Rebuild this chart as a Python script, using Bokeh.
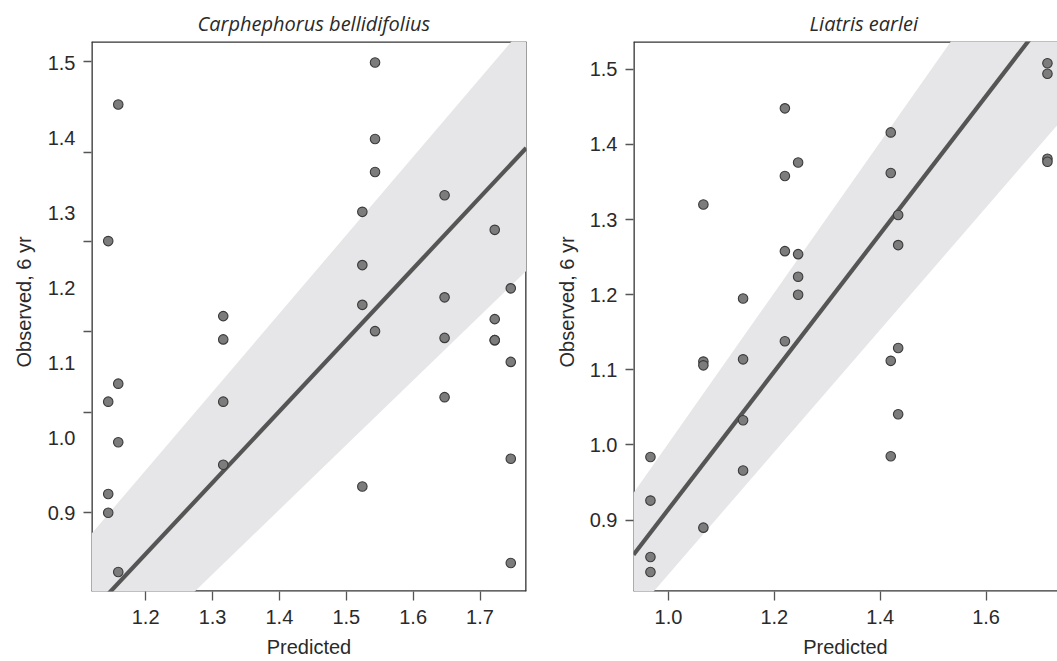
from bokeh.plotting import figure
from bokeh.layouts import row
from bokeh.models import (Range1d, FixedTicker, LinearAxis, Title,
                          PrintfTickFormatter, CustomJSTickFormatter)
from bokeh.embed import file_html
from bokeh.resources import INLINE

# ---------------- data: Carphephorus bellidifolius ----------------
left_title = "Carphephorus bellidifolius"
left_pred = [1.144, 1.144, 1.144, 1.144,
             1.159, 1.159, 1.159, 1.159,
             1.316, 1.316, 1.316, 1.316,
             1.524, 1.524, 1.524, 1.524,
             1.543, 1.543, 1.543, 1.543,
             1.647, 1.647, 1.647, 1.647,
             1.722, 1.722, 1.722, 1.722,
             1.746, 1.746, 1.746, 1.746]
left_obs = [1.262, 1.048, 0.925, 0.900,
            1.444, 1.072, 0.994, 0.821,
            1.162, 1.131, 1.048, 0.964,
            1.301, 1.230, 1.177, 0.935,
            1.500, 1.398, 1.354, 1.142,
            1.323, 1.187, 1.133, 1.054,
            1.277, 1.158, 1.130, 1.130,
            1.199, 1.101, 0.972, 0.833]
left_fit_x = [1.119, 1.769]
left_fit_y = [0.768, 1.386]
left_band_x = [1.119, 1.769]
left_band_lo = [0.662, 1.222]
left_band_hi = [0.872, 1.551]
left_xticks = [1.2, 1.3, 1.4, 1.5, 1.6, 1.7]
left_yticks = [0.9, 1.0, 1.1, 1.2, 1.3, 1.4, 1.5]
left_tick_marks = [0.900, 1.034, 1.141, 1.261, 1.380, 1.502]
left_xlim = (1.119, 1.7695)
left_ylim = (0.795, 1.528)

# ---------------- data: Liatris earlei ----------------
right_title = "Liatris earlei"
right_pred = [0.966, 0.966, 0.966, 0.966,
              1.066, 1.066, 1.066, 1.066,
              1.141, 1.141, 1.141, 1.141,
              1.220, 1.220, 1.220, 1.220,
              1.245, 1.245, 1.245, 1.245,
              1.420, 1.420, 1.420, 1.420,
              1.434, 1.434, 1.434, 1.434,
              1.716, 1.716, 1.716, 1.716]
right_obs = [0.984, 0.926, 0.851, 0.831,
             1.320, 1.111, 1.106, 0.890,
             1.195, 1.114, 1.033, 0.966,
             1.448, 1.358, 1.258, 1.138,
             1.376, 1.254, 1.224, 1.200,
             1.416, 1.362, 1.112, 0.985,
             1.306, 1.266, 1.129, 1.041,
             1.508, 1.494, 1.381, 1.377]
right_fit_x = [0.934, 1.735]
right_fit_y = [0.854, 1.588]
right_band_x = [0.934, 1.735]
right_band_lo = [0.774, 1.426]
right_band_hi = [0.936, 1.739]
right_xticks = [1.0, 1.2, 1.4, 1.6]
right_yticks = [0.9, 1.0, 1.1, 1.2, 1.3, 1.4, 1.5]
right_xlim = (0.934, 1.735)
right_ylim = (0.805, 1.537)

x_label = "Predicted"
y_label = "Observed, 6 yr"

AX_FONT = "Liberation Sans"
TXT = "#2a2a2a"
TICK = "#555555"
FRAME = "#333333"
BAND = "#e6e6e8"
LINE = "#555555"
PT_FILL = "#7c7c7c"
PT_LINE = "#3a3a3a"


def style_labels(ax, standoff):
    ax.major_label_standoff = standoff
    ax.major_label_text_font = AX_FONT
    ax.major_label_text_font_size = "20px"
    ax.major_label_text_color = TXT
    ax.formatter = PrintfTickFormatter(format="%.1f")


def make_panel(title, px, py, fx, fy, bx, blo, bhi, xticks, yticks, tick_marks,
               xlim, ylim, width, bl, br, title_offset, right_border,
               ylabel_standoff):
    p = figure(width=width, height=661,
               x_range=Range1d(*xlim), y_range=Range1d(*ylim),
               output_backend="svg", toolbar_location=None,
               min_border_left=bl, min_border_right=br,
               min_border_top=41, min_border_bottom=70)
    p.outline_line_color = None
    p.xgrid.grid_line_color = None
    p.ygrid.grid_line_color = None
    p.background_fill_color = "white"
    p.border_fill_color = "white"

    # title
    p.title.text = title
    p.title.align = "left"
    p.title.offset = title_offset
    p.title.text_font = "Open Sans"
    p.title.text_font_style = "italic"
    p.title.text_font_size = "20px"
    p.title.text_color = TXT
    p.title.standoff = 10

    # x axis
    xa = p.xaxis[0]
    xa.ticker = FixedTicker(ticks=xticks)
    xa.axis_line_color = None
    xa.major_tick_out = 9
    xa.major_tick_in = 0
    xa.major_tick_line_color = TICK
    xa.major_tick_line_width = 1.3
    xa.minor_tick_line_color = None
    style_labels(xa, 9)
    xa.axis_label = x_label
    xa.axis_label_text_font = AX_FONT
    xa.axis_label_text_font_size = "20px"
    xa.axis_label_text_font_style = "normal"
    xa.axis_label_text_color = TXT
    xa.axis_label_standoff = 9

    ya = p.yaxis[0]
    ya.axis_line_color = None
    ya.major_tick_in = 0
    ya.major_tick_line_color = TICK
    ya.major_tick_line_width = 1.3
    ya.minor_tick_line_color = None
    if tick_marks is not None:
        # inner y axis: tick marks only (they sit apart from the labels)
        ya.ticker = FixedTicker(ticks=tick_marks)
        ya.major_tick_out = 8
        ya.formatter = CustomJSTickFormatter(code="return ''")
        ya.major_label_standoff = 0
        # outer y axis: labels only
        yl = LinearAxis(ticker=FixedTicker(ticks=yticks),
                        axis_line_color=None, major_tick_line_color=None,
                        major_tick_out=0, major_tick_in=0,
                        minor_tick_line_color=None)
        style_labels(yl, 8)
        p.add_layout(yl, "left")
    else:
        ya.ticker = FixedTicker(ticks=yticks)
        ya.major_tick_out = 8
        style_labels(ya, 8)

    # y label as a side title
    p.add_layout(Title(text=y_label, align="left", offset=224,
                       text_font=AX_FONT, text_font_size="20px",
                       text_font_style="normal", text_color=TXT,
                       standoff=ylabel_standoff), "left")

    # frame (drawn under the band)
    xs, xe = xlim
    ys, ye = ylim
    if right_border:
        p.segment(x0=[xs, xs, xs, xe], y0=[ye, ys, ys, ys],
                  x1=[xe, xs, xe, xe], y1=[ye, ye, ys, ye],
                  line_color=FRAME, line_width=2.6)
    else:
        p.segment(x0=[xs, xs, xs], y0=[ye, ys, ys],
                  x1=[xe, xs, xe], y1=[ye, ye, ys],
                  line_color=FRAME, line_width=2.6)

    p.varea(x=bx, y1=blo, y2=bhi, fill_color=BAND)
    p.line(fx, fy, line_color=LINE, line_width=4.2)
    p.scatter(px, py, size=9.5, fill_color=PT_FILL, line_color=PT_LINE,
              line_width=1.1)
    return p


p1 = make_panel(left_title, left_pred, left_obs, left_fit_x, left_fit_y,
                left_band_x, left_band_lo, left_band_hi,
                left_xticks, left_yticks, left_tick_marks,
                left_xlim, left_ylim, 545, 91, 19, 106, True, 20)
p2 = make_panel(right_title, right_pred, right_obs, right_fit_x, right_fit_y,
                right_band_x, right_band_lo, right_band_hi,
                right_xticks, right_yticks, None,
                right_xlim, right_ylim, 512, 85, 0, 176, False, 17)

layout = row(p1, p2)
open("out.html", "w").write(file_html(layout, INLINE))
